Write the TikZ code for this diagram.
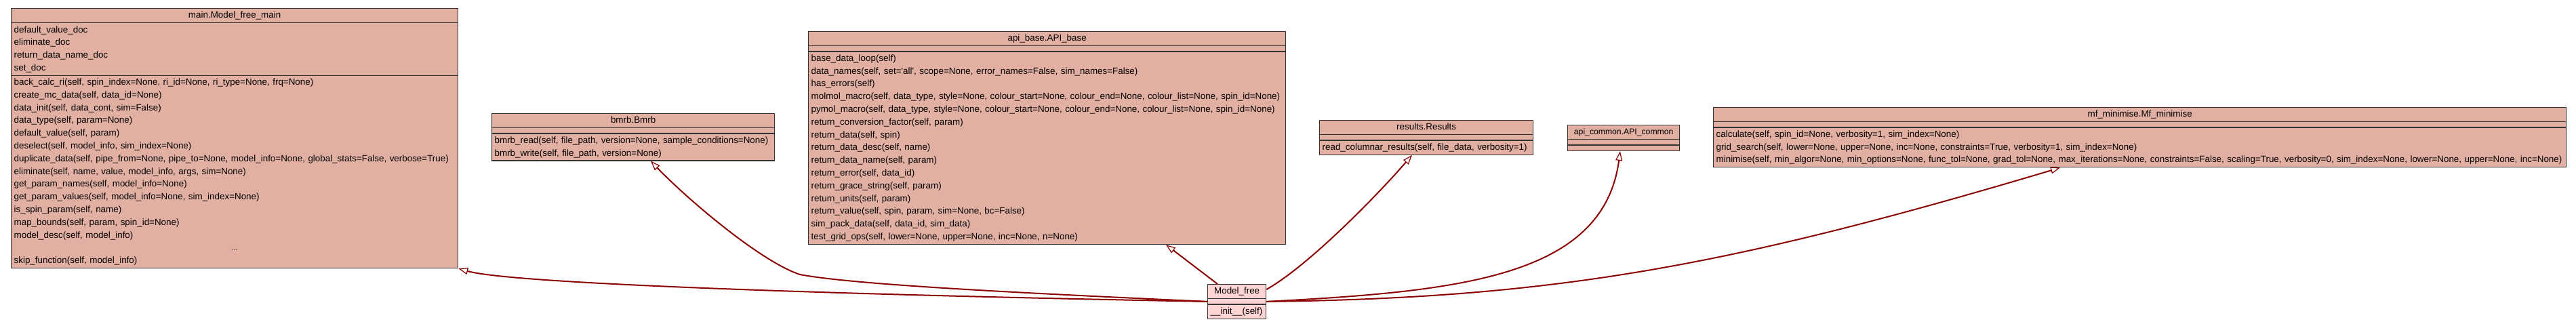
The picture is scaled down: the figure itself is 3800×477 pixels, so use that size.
\documentclass[tikz,border=0pt]{standalone}
\usepackage{fontspec}
\setmainfont{Liberation Sans}
\usetikzlibrary{shapes.multipart, arrows.meta}

\definecolor{classfill}{HTML}{E2B0A2}
\definecolor{childfill}{HTML}{FFD4D4}
\definecolor{edgered}{HTML}{8B0000}
\newcommand{\classfont}{\fontsize{13.4}{18.8}\selectfont}
\newcommand{\classname}[1]{\strut\hspace*{\fill}#1\hspace*{\fill}\null}

\begin{document}
\begin{tikzpicture}[x=1pt, y=-1pt,
    class node/.style={rectangle split, rectangle split parts=3, draw=black!80, line width=1.3pt, fill=classfill,
        anchor=north west, inner xsep=4pt, inner ysep=0.5pt, align=left, font=\classfont,
        rectangle split empty part height=6pt, text width=#1},
    child node/.style={class node=#1, fill=childfill},
    inherit/.style={draw=edgered, line width=2pt, -{Triangle[open, length=14pt, width=10pt, line width=1.2pt]}}]
\useasboundingbox (0,0) rectangle (3800,477);

% parent classes
\node[class node=651pt] (main) at (16,12) {\classname{main.Model\_free\_main}
    \nodepart{two}\strut default\_value\_doc\\ eliminate\_doc\\ return\_data\_name\_doc\\ set\_doc\strut
    \nodepart{three}\strut back\_calc\_ri(self, spin\_index=None, ri\_id=None, ri\_type=None, frq=None)\\
    create\_mc\_data(self, data\_id=None)\\
    data\_init(self, data\_cont, sim=False)\\
    data\_type(self, param=None)\\
    default\_value(self, param)\\
    deselect(self, model\_info, sim\_index=None)\\
    duplicate\_data(self, pipe\_from=None, pipe\_to=None, model\_info=None, global\_stats=False, verbose=True)\\
    eliminate(self, name, value, model\_info, args, sim=None)\\
    get\_param\_names(self, model\_info=None)\\
    get\_param\_values(self, model\_info=None, sim\_index=None)\\
    is\_spin\_param(self, name)\\
    map\_bounds(self, param, spin\_id=None)\\
    model\_desc(self, model\_info)\\
    \hspace*{\fill}{\normalsize ...}\hspace*{\fill}\null\\
    skip\_function(self, model\_info)\strut};

\node[class node=409pt] (bmrb) at (725,167) {\classname{bmrb.Bmrb}
    \nodepart{three}\strut bmrb\_read(self, file\_path, version=None, sample\_conditions=None)\\
    bmrb\_write(self, file\_path, version=None)\strut};

\node[class node=696pt] (apibase) at (1192,46) {\classname{api\_base.API\_base}
    \nodepart{three}\strut base\_data\_loop(self)\\
    data\_names(self, set=\textquotesingle all\textquotesingle, scope=None, error\_names=False, sim\_names=False)\\
    has\_errors(self)\\
    molmol\_macro(self, data\_type, style=None, colour\_start=None, colour\_end=None, colour\_list=None, spin\_id=None)\\
    pymol\_macro(self, data\_type, style=None, colour\_start=None, colour\_end=None, colour\_list=None, spin\_id=None)\\
    return\_conversion\_factor(self, param)\\
    return\_data(self, spin)\\
    return\_data\_desc(self, name)\\
    return\_data\_name(self, param)\\
    return\_error(self, data\_id)\\
    return\_grace\_string(self, param)\\
    return\_units(self, param)\\
    return\_value(self, spin, param, sim=None, bc=False)\\
    sim\_pack\_data(self, data\_id, sim\_data)\\
    test\_grid\_ops(self, lower=None, upper=None, inc=None, n=None)\strut};

\node[class node=307pt] (results) at (1946,177) {\classname{results.Results}
    \nodepart{three}\strut read\_columnar\_results(self, file\_data, verbosity=1)\strut};

\node[class node=157pt] (apicommon) at (2312,184) {\classname{\fontsize{12.2}{18.8}\selectfont api\_common.API\_common}};

\node[class node=1250pt] (minimise) at (2527,158) {\classname{mf\_minimise.Mf\_minimise}
    \nodepart{three}\strut calculate(self, spin\_id=None, verbosity=1, sim\_index=None)\\
    grid\_search(self, lower=None, upper=None, inc=None, constraints=True, verbosity=1, sim\_index=None)\\
    minimise(self, min\_algor=None, min\_options=None, func\_tol=None, grad\_tol=None, max\_iterations=None, constraints=False, scaling=True, verbosity=0, sim\_index=None, lower=None, upper=None, inc=None)\strut};

% the class itself
\node[child node=78pt] (model) at (1781,419) {\classname{Model\_free}
    \nodepart{three}\strut \_\_init\_\_(self)\strut};

% inheritance
\draw[inherit] (model.west) .. controls (1300,436) and (760,420) .. (main.south east);
\draw[inherit] (model.west) .. controls (1500,432) and (1260,420) .. (1180,405)
    .. controls (1120,385) and (1010,290) .. ([xshift=235pt]bmrb.south west);
\draw[inherit] ([xshift=15pt]model.north west) -- ([xshift=528pt]apibase.south west);
\draw[inherit] ([yshift=-8pt]model.north east) .. controls (1930,392) and (2030,290) .. ([xshift=137pt]results.south west);
\draw[inherit] (model.east) .. controls (2150,430) and (2365,410) .. ([xshift=78pt]apicommon.south west);
\draw[inherit] (model.east) .. controls (2300,440) and (2560,390) .. ([xshift=512pt]minimise.south west);
\end{tikzpicture}
\end{document}
